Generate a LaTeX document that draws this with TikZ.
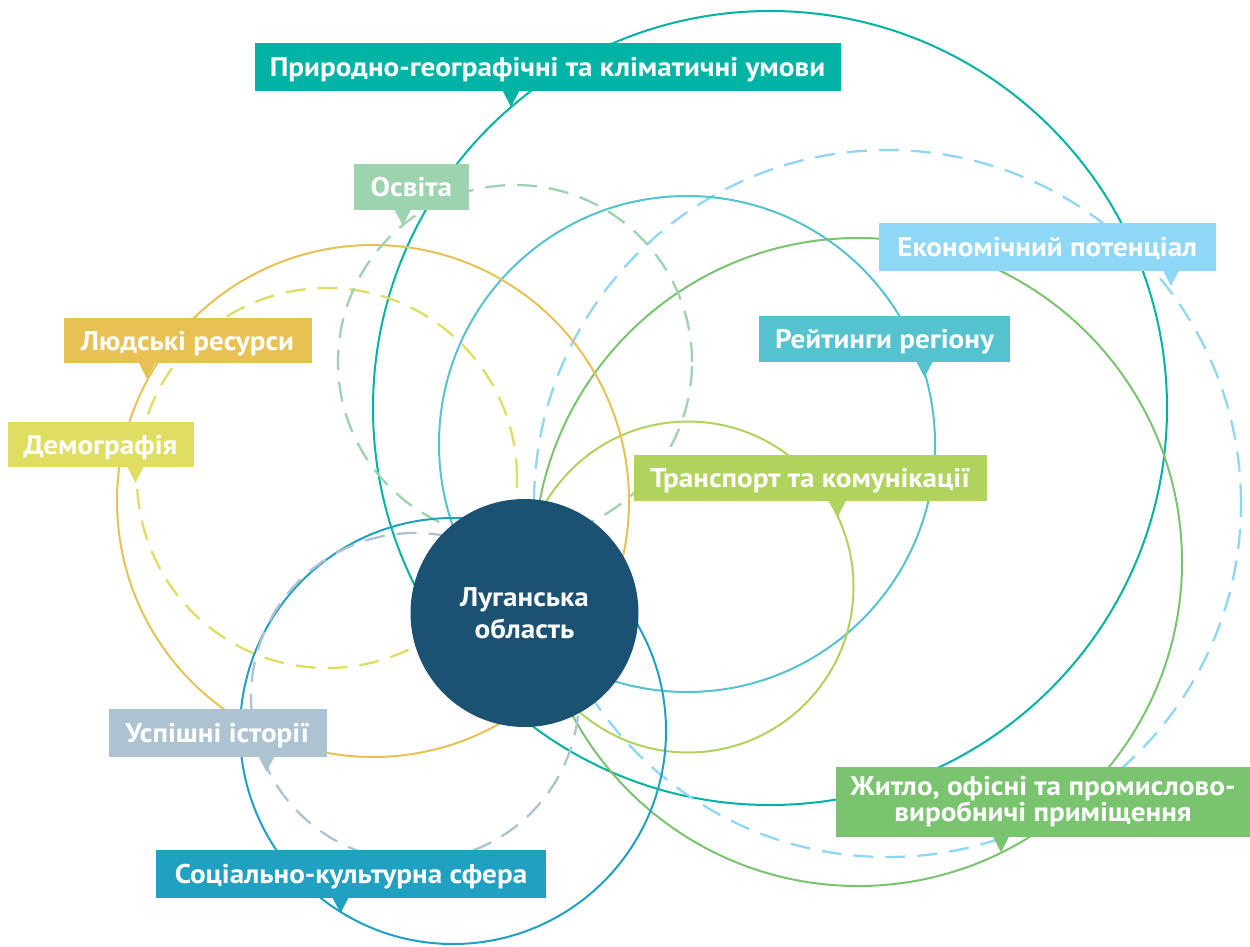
\documentclass[tikz,border=0pt]{standalone}
\usepackage{fontspec}
\setmainfont{PT Sans}
\newfontfamily\labfont{PT Sans}[FakeStretch=1.08]
\definecolor{cTeal}{HTML}{00B3A4}
\definecolor{cEdu}{HTML}{9DD3AE}
\definecolor{cEcon}{HTML}{8ED7F6}
\definecolor{cHum}{HTML}{E8C154}
\definecolor{cRate}{HTML}{55C3CF}
\definecolor{cDemo}{HTML}{DFDD62}
\definecolor{cTrans}{HTML}{B0D35D}
\definecolor{cSucc}{HTML}{ADC3D1}
\definecolor{cHouse}{HTML}{7AC470}
\definecolor{cSoc}{HTML}{20A1C2}
\definecolor{cCenter}{HTML}{1B5273}
\tikzset{
  ring/.style={line width=2pt},
  dashring/.style={line width=2.3pt, dash pattern=on 20pt off 12pt},
  lab/.style={inner sep=0pt, text=white, font=\labfont\fontsize{27}{26}\selectfont\bfseries,
    text height=19pt, text depth=0pt},
  labtwo/.style={inner sep=0pt, text=white, font=\labfont\fontsize{27}{26}\selectfont\bfseries, align=center},
  hub/.style={circle, inner sep=0pt, minimum size=228pt, fill=cCenter, text=white,
    font=\labfont\fontsize{27}{32}\selectfont\bfseries, align=center}
}
\newcommand\ptr[3]{\fill[#1] (#2-8.5,#3-1) -- (#2+8.5,#3-1) -- (#2,#3+15.5) -- cycle;}
\begin{document}
\begin{tikzpicture}[x=1pt,y=-1pt]
\useasboundingbox (0,0) rectangle (1250,947);
\fill[white] (0,0) rectangle (1250,947);
% rings
\draw[ring, cTeal] (770,408) circle[radius=397pt];
\draw[dashring, cEcon] (887.5,503.5) circle[radius=353.5pt];
\draw[ring, cRate] (687,444) circle[radius=248pt];
\draw[ring, cHouse] (858,562) circle[radius=324pt];
\draw[ring, cTrans] (688,587) circle[radius=165.5pt];
\draw[ring, cHum] (373,501) circle[radius=256pt];
\draw[dashring, cDemo] (327,478) circle[radius=190pt];
\draw[dashring, cEdu] (515,362) circle[radius=177pt];
\draw[ring, cSoc] (453,731) circle[radius=213pt];
\draw[dashring, cSucc] (415,697) circle[radius=164pt];
% hub
\node[hub] (hub) at (524.5,613) {Луганська\\область};
% labels
\node[lab, fill=cTeal, minimum width=586pt, minimum height=48pt] (l1) at (547.5,67.5) {Природно-географічні та кліматичні умови};
\ptr{cTeal}{511}{91.5}
\node[lab, fill=cEdu, minimum width=115pt, minimum height=46pt] (l2) at (411.3,187) {Освіта};
\ptr{cEdu}{402.7}{210}
\node[lab, fill=cEcon, minimum width=337pt, minimum height=48pt] (l3) at (1047.3,246.5) {Економічний потенціал};
\ptr{cEcon}{1171}{270.5}
\node[lab, fill=cHum, minimum width=248pt, minimum height=45pt] (l4) at (187.5,340.8) {Людські ресурси};
\ptr{cHum}{147}{363.3}
\node[lab, fill=cRate, minimum width=251pt, minimum height=46pt] (l5) at (884.5,338.8) {Рейтинги регіону};
\ptr{cRate}{924.5}{361.8}
\node[lab, fill=cDemo, minimum width=186pt, minimum height=45pt] (l6) at (100.5,444.8) {Демографія};
\ptr{cDemo}{135.5}{467.3}
\node[lab, fill=cTrans, minimum width=353pt, minimum height=46pt] (l7) at (810.3,477.8) {Транспорт та комунікації};
\ptr{cTrans}{838}{500.8}
\node[lab, fill=cSucc, minimum width=218pt, minimum height=48pt] (l8) at (217.5,732.5) {Успішні історії};
\ptr{cSucc}{266.5}{756.5}
\node[labtwo, fill=cHouse, minimum width=414pt, minimum height=70pt] (l9) at (1043,801.7) {Житло, офісні та промислово-\\виробничі приміщення};
\ptr{cHouse}{1001}{836.7}
\node[lab, fill=cSoc, minimum width=390pt, minimum height=48pt] (l10) at (351,873.5) {Соціально-культурна сфера};
\ptr{cSoc}{340.5}{897.7}
\end{tikzpicture}
\end{document}
